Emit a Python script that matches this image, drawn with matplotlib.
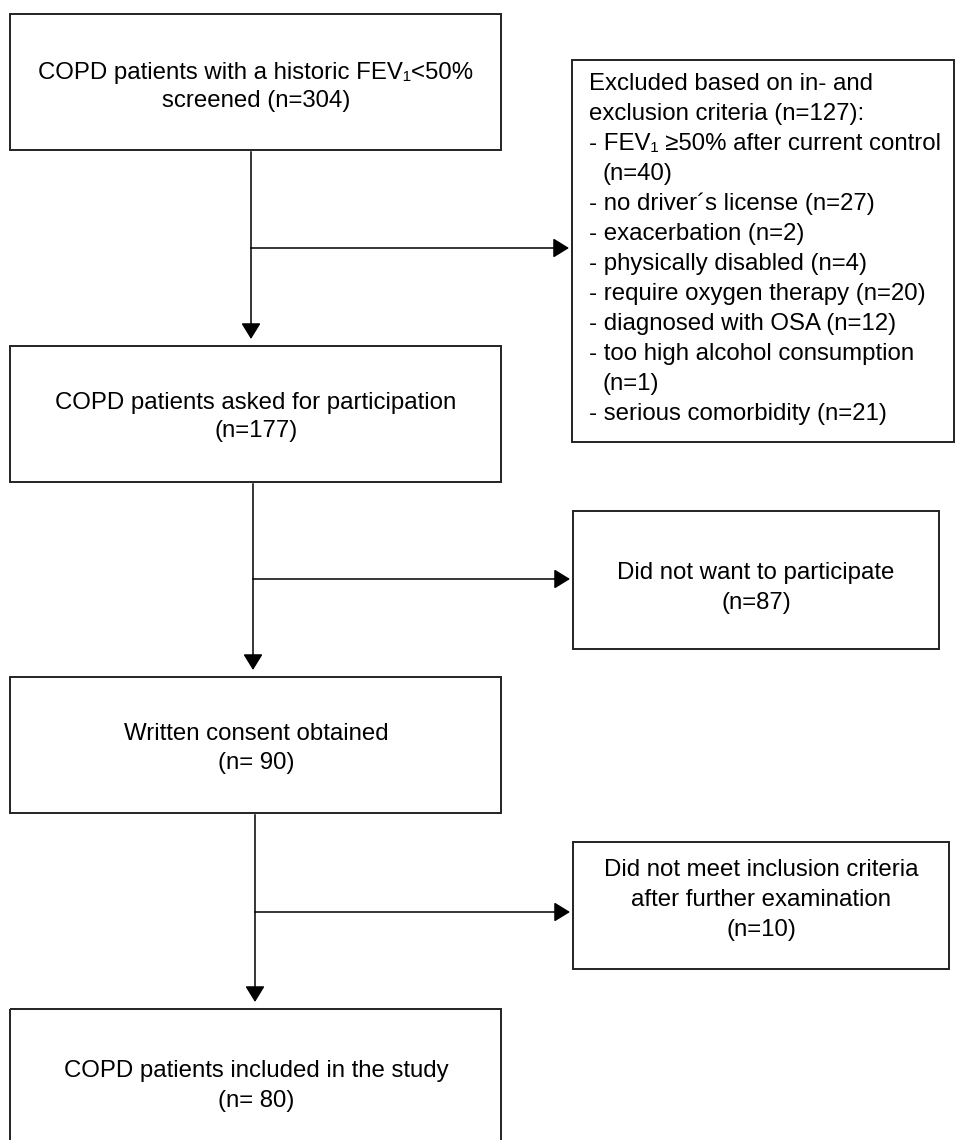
import matplotlib.pyplot as plt
from matplotlib.patches import Rectangle

plt.rcParams['font.family'] = ['Liberation Sans', 'DejaVu Sans']

# flow numbers
screened_n = 304
asked_n = 177
consent_n = 90
included_n = 80
excluded_n = 127
declined_n = 87
not_eligible_n = 10

exclusion_reasons = ['FEV\u2081 \u226550% after current control', 'no driver\u00b4s license',
                     'exacerbation', 'physically disabled', 'require oxygen therapy',
                     'diagnosed with OSA', 'too high alcohol consumption', 'serious comorbidity']
exclusion_counts = [40, 27, 2, 4, 20, 12, 1, 21]
count_on_next_line = [True, False, False, False, False, False, True, False]

main_labels = [
    ['COPD patients with a historic FEV\u2081<50%', f'screened (n={screened_n})'],
    ['COPD patients asked for participation', f'(n={asked_n})'],
    ['Written consent obtained', f'(n= {consent_n})'],
    ['COPD patients included in the study', f'(n= {included_n})'],
]
side_labels = [
    None,
    ['Did not want to participate', f'(n={declined_n})'],
    ['Did not meet inclusion criteria', 'after further examination', f'(n={not_eligible_n})'],
]

W, H = 956, 1140
fig = plt.figure(figsize=(W / 100, H / 100), dpi=100)
ax = fig.add_axes([0, 0, 1, 1])
ax.set_xlim(0, W)
ax.set_ylim(H, 0)
ax.axis('off')

FS = 17.3
LW_BOX = 1.4
EDGE = '#222222'


def box(x0, y0, x1, y1):
    ax.add_patch(Rectangle((x0, y0), x1 - x0, y1 - y0, fill=False,
                           edgecolor=EDGE, lw=LW_BOX, clip_on=False))


def centered_lines(lines, cx, cy, step):
    n = len(lines)
    for i, s in enumerate(lines):
        ax.text(cx, cy + (i - (n - 1) / 2) * step, s, ha='center', va='center',
                fontsize=FS, color='black')


def arrow(x0, y0, x1, y1):
    ax.annotate('', xy=(x1, y1), xytext=(x0, y0),
                arrowprops=dict(arrowstyle='-|>,head_length=0.65,head_width=0.4',
                                mutation_scale=15, lw=1.1, color='black',
                                shrinkA=0, shrinkB=0))


# main column
main_x0, main_x1 = 10.5, 501.5
main_tops = [14, 346, 677, 1009]
box_h = 136
text_shift = [5, 3, 4, 9]
for top, lines, dy in zip(main_tops, main_labels, text_shift):
    box(main_x0, top, main_x1, top + box_h)
    centered_lines(lines, 256, top + box_h / 2 + dy, 29)

# connectors between main boxes with side branches
trunk_x = [251, 253, 255]
branch_y = [248, 579, 912]
side_x0 = [572, 573, 573]
for i in range(3):
    y_start = main_tops[i] + box_h + 2
    y_end = main_tops[i + 1] - 7
    ax.plot([trunk_x[i], trunk_x[i]], [y_start, y_end - 10], color='black', lw=1.1)
    arrow(trunk_x[i], y_end - 12, trunk_x[i], y_end)
    ax.plot([trunk_x[i], side_x0[i] - 12], [branch_y[i], branch_y[i]], color='black', lw=1.1)
    arrow(side_x0[i] - 14, branch_y[i], side_x0[i] - 3, branch_y[i])

# exclusion box
box(572, 60, 954, 442)
ex_lines = ['Excluded based on in- and', f'exclusion criteria (n={excluded_n}):']
ex_indent = []
for reason, c, wrap in zip(exclusion_reasons, exclusion_counts, count_on_next_line):
    if wrap:
        ex_lines.append(f'- {reason}')
        ex_lines.append(f'(n={c})')
        ex_indent.append(len(ex_lines) - 1)
    else:
        ex_lines.append(f'- {reason} (n={c})')
for i, s in enumerate(ex_lines):
    ax.text(603 if i in ex_indent else 589, 84 + i * 30, s, ha='left', va='center',
            fontsize=FS, color='black')

# other side boxes
box(573, 511, 939, 649)
centered_lines(side_labels[1], 756, 588, 30)
box(573, 842, 949, 969)
centered_lines(side_labels[2], 761, 900, 30)

fig.savefig('out.png', dpi=100, facecolor='white')
